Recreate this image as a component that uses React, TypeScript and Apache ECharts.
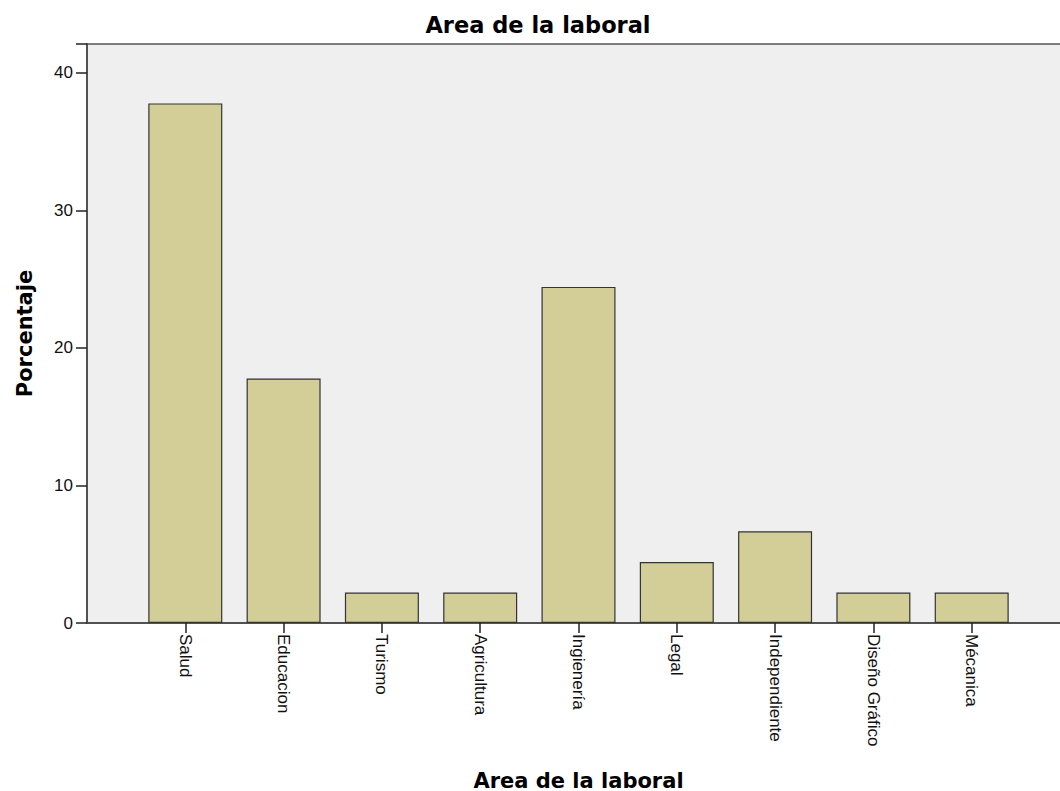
import React, { useEffect, useRef } from "react";
import * as echarts from "echarts";

const categories = [
  "Salud",
  "Educacion",
  "Turismo",
  "Agricultura",
  "Ingienería",
  "Legal",
  "Independiente",
  "Diseño Gráfico",
  "Mécanica",
];
const percentages = [37.78, 17.78, 2.22, 2.22, 24.44, 4.44, 6.67, 2.22, 2.22];
const yTicks = [0, 10, 20, 30, 40];

export default function App() {
  const ref = useRef<HTMLDivElement>(null);
  useEffect(() => {
    document.body.style.margin = "0";
    const chart = echarts.init(ref.current!, null, { renderer: "svg" });
    const cats = ["", ...categories, ""];
    const vals: (number | null)[] = [null, ...percentages, null];
    chart.setOption({
      animation: false,
      backgroundColor: "#ffffff",
      title: {
        text: "Area de la laboral",
        left: 533,
        top: 8,
        textAlign: "center",
        textStyle: {
          fontFamily: "DejaVu Sans",
          fontWeight: "bold",
          fontSize: 22.5,
          color: "#000",
        },
      },
      grid: {
        left: 87,
        width: 983,
        top: 44,
        bottom: 168,
        outerBoundsMode: "none",
        containLabel: false,
        show: true,
        backgroundColor: "#efefef",
        borderColor: "#555",
        borderWidth: 1.5,
      },
      xAxis: {
        type: "category",
        data: cats,
        boundaryGap: false,
        name: "Area de la laboral",
        nameLocation: "middle",
        nameGap: 147,
        nameTextStyle: {
          fontFamily: "DejaVu Sans",
          fontWeight: "bold",
          fontSize: 21,
          color: "#000",
        },
        axisLine: { lineStyle: { color: "#444", width: 1.5 } },
        axisTick: {
          length: 10,
          lineStyle: { color: "#222", width: 1.5 },
          interval: (_i: number, v: string) => v !== "",
        },
        axisLabel: {
          rotate: -90,
          margin: 11,
          interval: 0,
          fontFamily: "Arial, Liberation Sans",
          fontSize: 17,
          color: "#111",
        },
        splitLine: { show: false },
      },
      yAxis: {
        type: "value",
        min: 0,
        max: 42.1,
        interval: 10,
        name: "Porcentaje",
        nameLocation: "middle",
        nameGap: 52,
        nameTextStyle: {
          fontFamily: "DejaVu Sans",
          fontWeight: "bold",
          fontSize: 21,
          color: "#000",
        },
        axisLine: { show: true, lineStyle: { color: "#444", width: 1.5 } },
        axisTick: { show: true, length: 11, lineStyle: { color: "#222", width: 1.5 } },
        axisLabel: {
          margin: 14,
          fontFamily: "Arial, Liberation Sans",
          fontSize: 17,
          color: "#111",
          formatter: (v: number) => (yTicks.includes(v) ? String(v) : ""),
        },
        splitLine: { show: false },
      },
      series: [
        {
          type: "bar",
          data: vals,
          barWidth: 74,
          itemStyle: {
            color: "#d3ce97",
            borderColor: "#333",
            borderWidth: 1.2,
          },
        },
      ],
    });
    return () => chart.dispose();
  }, []);
  return (
    <div style={{ width: 1060, height: 791, overflow: "hidden", position: "relative" }}>
      <div ref={ref} style={{ width: 1060, height: 791, overflow: "hidden" }} />
    </div>
  );
}
